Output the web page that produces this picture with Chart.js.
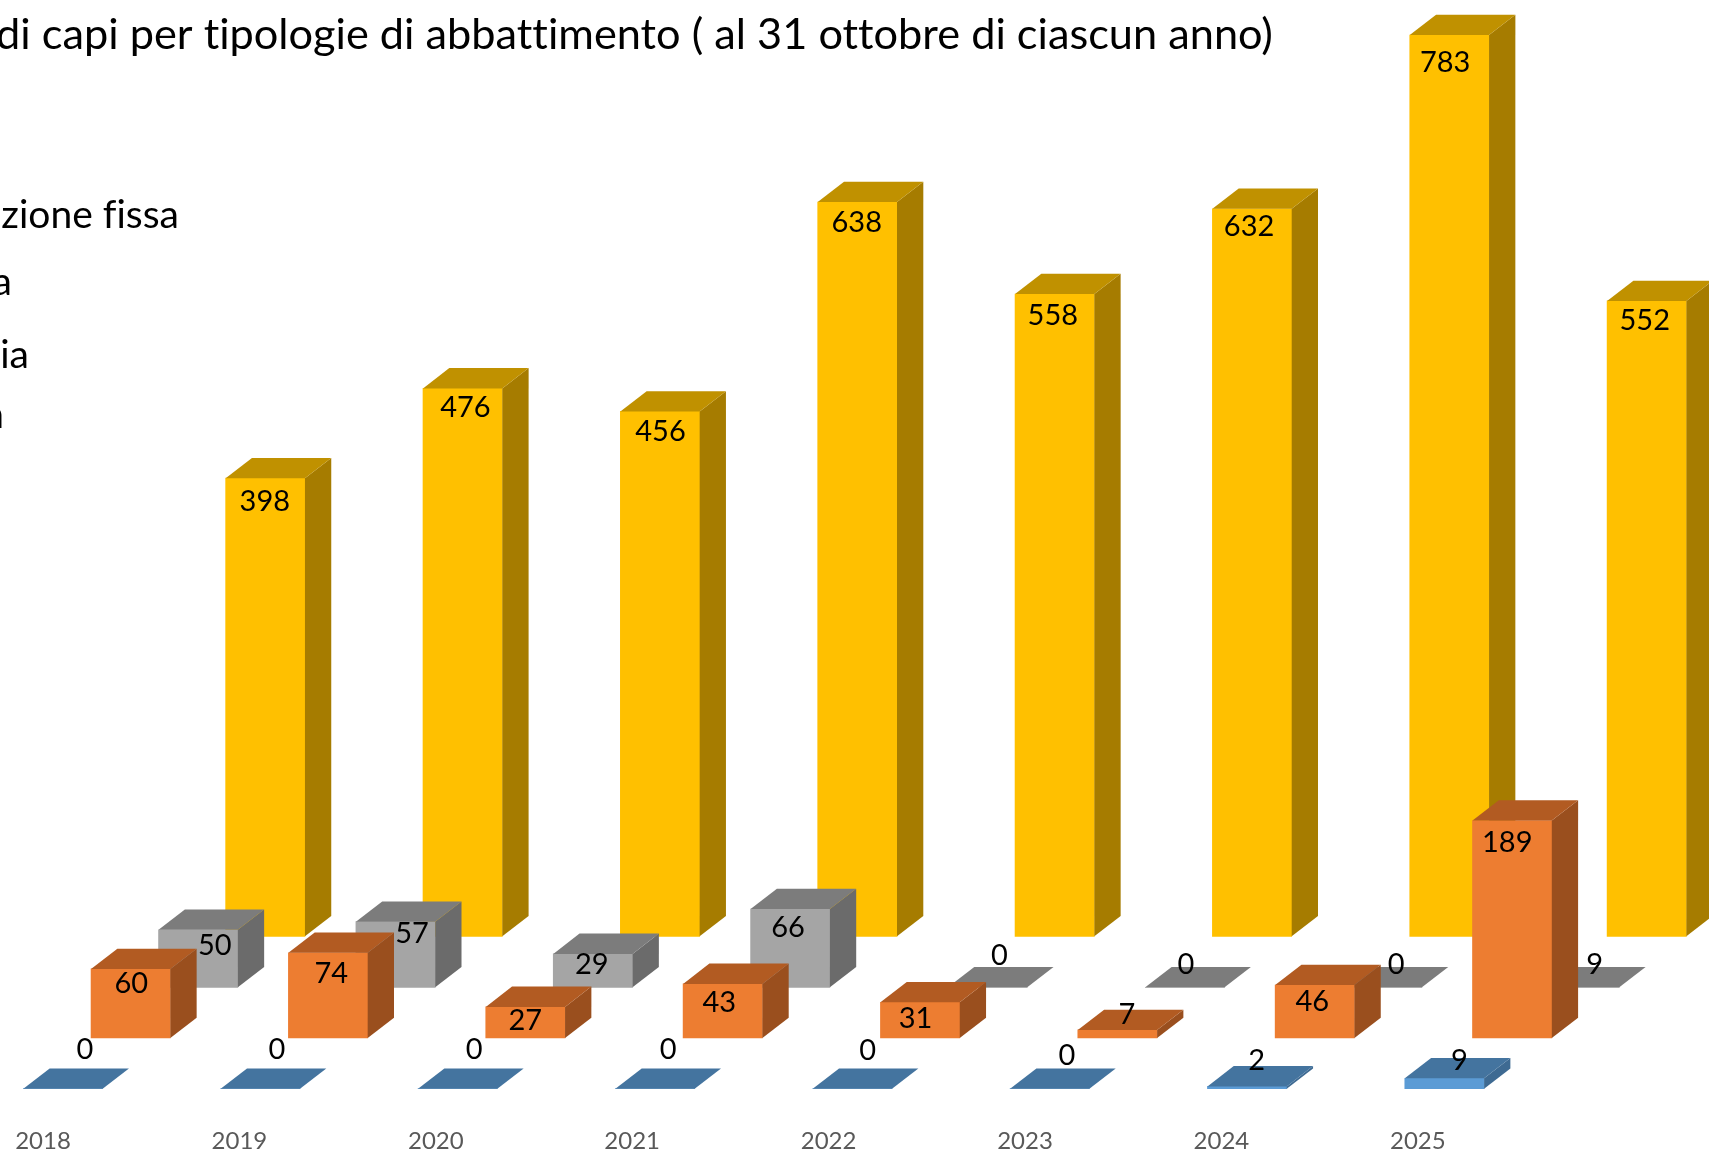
<!DOCTYPE html>
<html lang="it">
<head>
<meta charset="utf-8">
<title>Capi per tipologie di abbattimento</title>
<script src="https://cdn.jsdelivr.net/npm/chart.js@4/dist/chart.umd.js"></script>
<style>
html,body{margin:0;padding:0;background:#fff;overflow:hidden}
canvas{display:block}
</style>
</head>
<body>
<canvas id="c" width="1709" height="1152"></canvas>
<script>
// ---- data ----
const years = ['2018','2019','2020','2021','2022','2023','2024','2025'];
// bar heights as drawn in the picture
const seriesBlue   = [0,0,0,0,0,0,2,9];
const seriesOrange = [60,74,27,47,31,7,46,189];
const seriesGrey   = [50,57,29,68,0,0,0,0];
const seriesYellow = [398,476,456,638,558,632,783,552];
// value labels as printed in the picture
const labelsBlue   = ['0','0','0','0','0','0','2','9'];
const labelsOrange = ['60','74','27','43','31','7','46','189'];
const labelsGrey   = ['50','57','29','66','0','0','0','9'];
const labelsYellow = ['398','476','456','638','558','632','783','552'];
const chartTitle = 'di capi per tipologie di abbattimento ( al 31 ottobre di ciascun anno)';
const legendTexts = ['zione fissa','a','ia','n'];

// ---- styles / layout (not data) ----
const FONT = 'Lato, Carlito, Calibri, sans-serif';
const band = 197.35, barW = 79.3, depthX = 26.3, depthY = 20.3, yUnit = 1.151, yMax = 800;
const styles = {
  blue:   {front:'#5B9BD5', top:'#44749F', side:'#3E6A92', c0:63,    base:1088.7,
           dx:[22,16.5,16.4,13,15.2,17.2,9.6,15], dy:[-40.2,-40.2,-40.2,-40.2,-39.1,-33.7,-27,-18.9]},
  orange: {front:'#ED7D31', top:'#B25B22', side:'#9A4F1E', c0:130.7, base:1038,
           dx:[.6,3.3,-.1,-3.5,-4.6,9.5,-2.6,-4.9], dy:[14,19.4,13.2,17.7,15.7,-16.3,15.5,20.9]},
  grey:   {front:'#A5A5A5', top:'#7C7C7C', side:'#6B6B6B', c0:198.2, base:987.3,
           dx:[16.5,16.5,-1.1,-2.2,11.8,.9,13.9,14.9], dy:[15,11.3,9.6,17.4,-32.5,-23.8,-23.8,-23.8]},
  yellow: {front:'#FFC000', top:'#C09100', side:'#A67C00', c0:265.3, base:936.3,
           dx:[-.5,2.8,.5,-.6,-1.9,-3,-4.2,-2], dy:[22,18,19,19.3,21,16.7,27,18.4]}
};
const order = ['blue','orange','grey','yellow'];
const values = {blue:seriesBlue, orange:seriesOrange, grey:seriesGrey, yellow:seriesYellow};
const labelText = {blue:labelsBlue, orange:labelsOrange, grey:labelsGrey, yellow:labelsYellow};

const datasets = order.map((k,i)=>({
  label:k, data:values[k], xAxisID:'x'+i, yAxisID:'y'+i, grouped:false,
  backgroundColor:styles[k].front, borderWidth:0, barThickness:barW, clip:false
}));

const scales = {
  xTicks:{type:'category',axis:'x',labels:years,offset:true,
    grid:{display:false},border:{display:false},
    ticks:{autoSkip:false,maxRotation:0,minRotation:0,padding:0,color:'#595959',font:{family:FONT,size:24}}}
};
order.forEach((k,i)=>{
  scales['x'+i]={type:'category',axis:'x',labels:years,offset:true,display:false};
  scales['y'+i]={type:'linear',axis:'y',min:0,max:yMax,display:false};
});

const place3D = {
  id:'place3D',
  afterLayout(chart){
    order.forEach((k,i)=>{
      const st=styles[k], sx=chart.scales['x'+i], sy=chart.scales['y'+i];
      sx.left=st.c0-band/2; sx.right=sx.left+band*years.length; sx.width=sx.right-sx.left;
      sx.configure();
      sy.bottom=st.base; sy.top=st.base-yMax*yUnit; sy.height=sy.bottom-sy.top;
      sy.configure();
    });
    const t=chart.scales.xTicks, tb=196.4;
    t.left=43-tb/2; t.right=t.left+tb*years.length; t.width=t.right-t.left;
    t.top=1119; t.bottom=1152; t.height=33;
    t.configure();
  },
  afterDatasetDraw(chart,args){
    const st=styles[order[args.index]], ctx=chart.ctx;
    ctx.save();
    args.meta.data.forEach(el=>{
      const r=el.x+barW/2, l=el.x-barW/2, y=el.y, b=el.base;
      if(b>y){
        ctx.fillStyle=st.side;
        ctx.beginPath();ctx.moveTo(r,y);ctx.lineTo(r+depthX,y-depthY);ctx.lineTo(r+depthX,b-depthY);ctx.lineTo(r,b);ctx.closePath();ctx.fill();
      }
      ctx.fillStyle=st.top;
      ctx.beginPath();ctx.moveTo(l,y);ctx.lineTo(l+depthX,y-depthY);ctx.lineTo(r+depthX,y-depthY);ctx.lineTo(r,y);ctx.closePath();ctx.fill();
    });
    ctx.restore();
  },
  afterDatasetsDraw(chart){
    const ctx=chart.ctx;
    ctx.save();
    ctx.textRendering='optimizeSpeed';
    ctx.fillStyle='#000';ctx.textAlign='center';ctx.textBaseline='middle';
    ctx.font='29px '+FONT;
    order.forEach((k,i)=>{
      const st=styles[k];
      chart.getDatasetMeta(i).data.forEach((el,j)=>{
        ctx.fillText(labelText[k][j],el.x+st.dx[j],el.y+st.dy[j]+1);
      });
    });
    ctx.textAlign='left';ctx.textBaseline='alphabetic';
    ctx.font='43.3px '+FONT;
    ctx.fillText(chartTitle,-4,49);
    ctx.textAlign='right';
    ctx.font='39px '+FONT;
    ctx.fillText(legendTexts[0],179,228);
    ctx.fillText(legendTexts[1],12,295);
    ctx.fillText(legendTexts[2],29,368);
    ctx.fillText(legendTexts[3],4,428);
    ctx.restore();
  }
};

new Chart(document.getElementById('c'),{
  type:'bar',
  data:{labels:years,datasets},
  options:{
    responsive:false,animation:false,
    layout:{padding:0},
    plugins:{legend:{display:false},title:{display:false},tooltip:{enabled:false}},
    scales
  },
  plugins:[place3D]
});
</script>
</body>
</html>
